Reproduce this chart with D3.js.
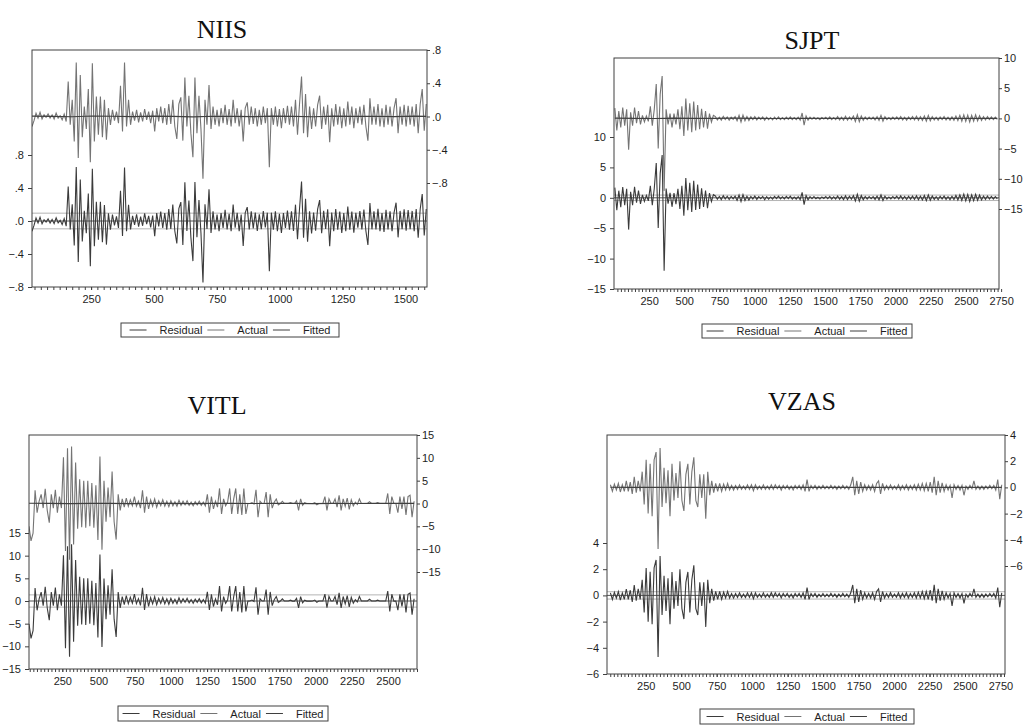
<!DOCTYPE html>
<html><head><meta charset="utf-8">
<script src="https://cdn.jsdelivr.net/npm/d3@7"></script>
<style>body{margin:0;background:#fff}svg{display:block}</style>
</head><body><svg id="c" width="1024" height="725"></svg>
<script>
// ---------------- DATA ----------------
const seriesNames = ["Residual", "Actual", "Fitted"];

// NIIS: obs from 15, every 8th obs
const niisActual = [
-0.12,-0.05,0.04,-0.02,0.05,-0.03,0.02,-0.01,0.03,-0.02,
0.02,-0.03,0.04,-0.02,0.01,-0.04,0.03,-0.06,0.42,-0.1,
0.2,-0.3,0.65,-0.5,0.5,-0.25,0.12,-0.15,0.33,-0.55,
0.64,-0.3,0.24,-0.22,0.24,-0.25,0.2,-0.28,0.1,-0.1,
0.08,-0.05,0.06,-0.08,0.37,-0.18,0.65,-0.12,0.2,-0.1,
0.06,-0.05,0.08,-0.07,0.05,-0.06,0.09,-0.04,0.06,-0.08,
0.07,-0.18,0.1,-0.06,0.12,-0.08,0.1,-0.1,0.15,-0.09,
0.2,-0.12,-0.27,0.15,0.23,-0.29,0.47,-0.12,0.25,-0.2,
-0.49,0.47,-0.2,0.25,-0.15,-0.75,0.2,-0.1,0.38,-0.15,
0.12,-0.1,0.08,-0.12,0.1,-0.08,0.14,-0.1,0.09,-0.12,
0.2,-0.08,0.1,-0.12,0.08,-0.3,0.1,0.17,-0.1,0.12,
-0.09,0.1,-0.12,0.08,-0.1,0.12,-0.08,0.1,-0.61,0.1,
-0.1,0.12,-0.12,0.09,-0.14,0.1,-0.08,0.13,-0.1,0.12,
-0.12,0.2,-0.22,0.15,0.48,-0.2,0.27,-0.25,0.12,-0.15,
0.1,-0.12,0.14,0.25,-0.15,0.12,-0.1,0.14,-0.31,0.1,
-0.12,0.15,-0.1,0.12,-0.14,0.1,-0.12,0.18,-0.1,0.12,
-0.14,0.1,-0.08,0.12,-0.1,0.14,-0.12,-0.29,0.22,-0.1,
0.12,-0.1,0.15,-0.12,0.1,-0.13,0.14,-0.1,0.12,-0.12,
0.1,0.22,-0.2,0.12,-0.1,0.14,-0.12,0.13,-0.1,0.12,
-0.12,0.15,-0.2,0.15,0.33,-0.17,0.15];
const niisFitted = [0.004,0.002,-0.003,0.006,0.003,-0.002,0.005,0.001,-0.004,0.003,0.002,-0.001,0.004,0.002,-0.003,0.005,0.001,0.003,-0.002,0.004,0.002];
const niisSE = 0.095;
const niisXTicks = [250,500,750,1000,1250,1500];
const niisYTicks = [-0.8,-0.4,0,0.4,0.8];

// SJPT: obs from 7, every 14th obs
const sjptActual = [
1.7,-2,1.2,-1.5,1.8,-1.2,1.5,-5.2,1.0,-1.2,
1.8,-0.8,1.2,-1.0,0.5,-0.6,0.4,-0.5,2.0,-1.2,
1.5,5.7,-5.0,4.0,7.0,-12.0,1.5,-1.0,0.8,-1.5,
0.8,-1.0,1.5,-1.8,2.0,-2.9,3.3,-2.0,2.5,-2.3,
2.8,-2.0,2.2,-1.8,1.6,-1.5,1.2,-1.7,0.8,-0.6,
0.5,0.3,-0.25,0.2,-0.3,0.35,-0.2,0.25,-0.3,0.2,
-0.15,0.3,-0.4,0.5,-0.6,0.55,-0.4,0.3,-0.35,0.25,
-0.2,0.3,-0.25,0.2,-0.15,0.25,-0.3,0.2,-0.2,0.15,
-0.25,0.2,-0.15,0.25,-0.2,0.15,-0.2,0.2,-0.15,0.25,
-0.2,0.15,-0.2,0.2,-0.3,0.9,-1.1,0.4,-0.3,0.2,
-0.15,0.2,-0.15,0.1,-0.2,0.15,-0.1,0.2,-0.15,0.25,
-0.2,0.15,-0.2,0.3,-0.25,0.2,-0.3,0.35,-0.3,0.25,
-0.2,0.4,-0.5,0.6,-0.55,0.4,-0.3,0.25,-0.2,0.2,
-0.15,0.2,-0.25,0.3,-0.35,0.5,-0.45,0.3,-0.2,0.15,
-0.2,0.2,-0.15,0.25,-0.2,0.3,-0.25,0.2,-0.3,0.25,
-0.2,0.3,-0.25,0.35,-0.3,0.3,-0.35,0.4,-0.45,0.5,
-0.4,0.3,-0.25,0.2,-0.3,0.25,-0.2,0.3,-0.25,0.2,
-0.3,0.25,-0.3,0.4,-0.35,0.5,-0.45,0.6,-0.5,0.55,
-0.6,0.5,-0.45,0.6,-0.4,0.45,-0.35,0.3,-0.25,0.3,
-0.2,0.25,-0.2,0.2,-0.15];
const sjptFitted = [0.03,0.01,-0.02,0.04,0.02,-0.01,0.03,0.01,-0.02,0.02,0.01,0.0,0.02,0.01,-0.01,0.02,0.01,0.0,0.01,0.02,0.01];
const sjptSE = 0.45;
const sjptXTicks = [250,500,750,1000,1250,1500,1750,2000,2250,2500,2750];
const sjptYTicks = [-15,-10,-5,0,5,10];

// VITL: obs from 20, every 14th obs
const vitlActual = [
-5,-8.2,-6.5,2.9,-2,0.5,2.0,-1.0,3.2,-1.5,
-4.2,2.0,-1.0,3.0,-2.0,1.5,-1.0,10.1,-10.4,12.1,
-12.3,12.5,-9,9,-5.5,5.3,-5.2,5.0,-5.3,5.0,
-5.0,4.5,-5.3,4.0,-8.0,10.3,-10.1,5.0,-4.0,3.5,
-3.0,7.0,-4.0,-7.9,2.0,-1.5,1.0,-0.8,1.2,-0.6,
0.8,-0.5,1.5,-0.6,0.5,-1.0,2.9,-2.0,1.5,-1.2,
0.8,-0.6,1.0,-0.8,0.6,-0.5,0.8,-0.6,0.5,-0.7,
0.6,-0.5,0.4,-0.6,0.7,-0.4,0.5,-0.3,0.6,-0.4,
0.3,-0.5,0.4,-0.3,0.5,-0.4,0.3,-0.5,2.0,-2.0,
1.5,-1.2,0.5,-0.8,3.3,-2.3,1.0,-0.5,0.3,3.3,
-2.3,1.0,3.3,-2.3,2.0,-2.5,3.3,-2.3,0,0,
0.2,-0.1,3.0,-3.0,0.5,0,0,2.5,-3.0,2.0,
-1.0,0.3,1.0,-0.3,0,0.5,0,0,0,0.2,
0,0,0.6,-1.5,1.0,-0.4,0.2,0,0,0,
0,0.2,-0.3,0,0,0,1.5,-1.5,1.0,0,
0,1.0,-0.8,1.8,-1.5,1.0,-0.6,1.2,-1.3,0.8,
-0.5,0.3,-0.2,1.0,0,0,0,0,0.4,0,
0,0,0.2,0,0,0,0,2.2,-2.3,1.5,
0,0,-2.0,1.5,-1.2,1.5,-2.5,1.5,1.8,-3.0,
0.5];
const vitlFitted = [0.05,0.02,-0.03,0.04,0.01,-0.02,0.03,0.01,-0.01,0.02,0.01,0.0,0.01,0.02,-0.01,0.01,0.0,0.01,0.02,0.01];
const vitlSE = 1.35;
const vitlXTicks = [250,500,750,1000,1250,1500,1750,2000,2250,2500];
const vitlYTicks = [-15,-10,-5,0,5,10,15];

// VZAS: obs from 1, every 14th obs
const vzasActual = [
0.2,-0.3,0.25,-0.2,0.3,-0.35,0.2,-0.3,0.5,-0.3,
0.4,-0.5,0.8,-0.4,0.5,-0.3,1.2,-1.3,2.1,-2.0,
1.8,-2.2,2.1,2.7,-4.7,3.0,-1.5,1.5,-1.2,1.3,
-2.2,1.8,-1.0,1.1,-0.8,2.0,-1.0,-1.8,1.0,1.8,
-1.3,1.2,2.3,-1.0,-1.5,1.0,-0.8,1.0,-2.4,1.2,
-0.6,0.5,-0.4,0.3,-0.3,0.3,-0.3,0.25,-0.2,0.3,
-0.2,0.15,-0.2,0.15,-0.15,0.2,-0.15,0.1,-0.15,0.2,
-0.15,0.2,-0.25,0.2,-0.15,0.1,-0.15,0.2,-0.15,0.1,
-0.15,0.2,-0.15,0.2,-0.1,0.15,-0.2,0.15,-0.1,0.15,
-0.15,0.1,-0.2,0.15,-0.1,0.15,-0.15,0.2,-0.3,0.6,
-0.3,0.15,-0.1,0.15,-0.15,0.1,-0.1,0.15,-0.1,0.1,
-0.1,0.15,-0.1,0.1,-0.15,0.1,-0.1,0.15,-0.1,0.1,
-0.15,0.2,0.8,-0.6,0.5,-0.5,0.4,-0.3,0.2,-0.2,
0.15,-0.2,0.2,-0.3,0.3,0.5,-0.5,0.3,-0.2,0.15,
-0.15,0.2,-0.15,0.1,-0.15,0.2,-0.2,0.15,-0.15,0.2,
-0.2,0.15,-0.15,0.2,-0.2,0.25,-0.2,0.3,-0.25,0.3,
-0.3,0.4,-0.4,0.8,-0.6,0.5,-0.4,0.35,-0.3,0.2,
-0.2,0.15,-0.8,0.2,-0.15,0.15,-0.2,0.15,-0.6,0.1,
-0.15,0.15,-0.1,0.5,-0.15,0.1,-0.15,0.1,-0.15,0.1,
-0.1,0.15,-0.1,0.15,-0.2,0.6,-0.9,0.2];
const vzasFitted = [0.01,0.005,-0.004,0.008,0.003,-0.002,0.006,0.002,-0.003,0.004,0.002,0.0,0.003,0.002,-0.002,0.003,0.001,0.002,0.0,0.003,0.002];
const vzasSE = 0.28;
const vzasXTicks = [250,500,750,1000,1250,1500,1750,2000,2250,2500,2750];
const vzasYTicks = [-6,-4,-2,0,2,4];

// ---------------- LAYOUT ----------------
const dotFmt = d => d === 0 ? ".0" : d3.format(".1f")(d).replace("0.", ".");
const intFmt = d3.format("d");

const panels = [
  {title:"NIIS", actual:niisActual, fitted:niisFitted, start:15, step:8, se:niisSE,
   xTicks:niisXTicks, yTicks:niisYTicks, fmt:dotFmt,
   box:[32,427,50,287], xDom:[15,1586], left:{dom:[-0.8,0.8], rng:[287,155]}, right:{dom:[-0.8,0.8], rng:[183,50]},
   titleXY:[222,38], legend:[121,323,218,14]},
  {title:"SJPT", actual:sjptActual, fitted:sjptFitted, start:7, step:14, se:sjptSE,
   xTicks:sjptXTicks, yTicks:sjptYTicks, fmt:intFmt,
   box:[614,999,58,289], xDom:[1,2735], left:{dom:[-15,10], rng:[289,137]}, right:{dom:[-15,10], rng:[209,58]},
   titleXY:[812,49], legend:[702,324,210,14]},
  {title:"VITL", actual:vitlActual, fitted:vitlFitted, start:20, step:14, se:vitlSE,
   xTicks:vitlXTicks, yTicks:vitlYTicks, fmt:intFmt,
   box:[29,417,435,669], xDom:[20,2700], left:{dom:[-15,15], rng:[669,533]}, right:{dom:[-15,15], rng:[572,435]},
   titleXY:[217,414], legend:[118,706,210,15]},
  {title:"VZAS", actual:vzasActual, fitted:vzasFitted, start:1, step:14, se:vzasSE,
   xTicks:vzasXTicks, yTicks:vzasYTicks, fmt:intFmt,
   box:[607,1005,435,674], xDom:[-23,2782], left:{dom:[-6,4], rng:[674,543]}, right:{dom:[-6,4], rng:[566,435]},
   titleXY:[802,410], legend:[700,709,214,15]}
];

const colors = {Residual:"#3b3b3b", Actual:"#747474", Fitted:"#3f3f3f", se:"#b4b4b4", axis:"#404040", text:"#1e1e1e"};
const svg = d3.select("#c");

panels.forEach((p, pi) => {
  const [x0,x1,y0,y1] = p.box;
  const x = d3.scaleLinear().domain(p.xDom).range([x0,x1]);
  const yL = d3.scaleLinear().domain(p.left.dom).range(p.left.rng);
  const yR = d3.scaleLinear().domain(p.right.dom).range(p.right.rng);
  const n = p.actual.length;
  const obs = i => p.start + i * p.step;
  const fitAt = i => p.fitted[Math.min(p.fitted.length - 1, Math.floor(i / 10))];
  const residual = p.actual.map((v, i) => v - fitAt(i));
  const fittedPts = p.fitted.map((v, j) => [obs(Math.min(j * 10, n - 1)), v]);

  const g = svg.append("g");
  g.append("clipPath").attr("id", "clip" + pi).append("rect")
    .attr("x", x0).attr("y", y0).attr("width", x1 - x0).attr("height", y1 - y0);
  const plot = g.append("g").attr("clip-path", `url(#clip${pi})`);

  [p.se, -p.se].forEach(s => {
    plot.append("line").attr("x1", x0).attr("x2", x1).attr("y1", yL(s)).attr("y2", yL(s))
      .attr("stroke", colors.se).attr("stroke-width", 1);
  });
  plot.append("line").attr("x1", x0).attr("x2", x1).attr("y1", yL(0)).attr("y2", yL(0))
    .attr("stroke", "#555").attr("stroke-width", 1);

  const lineL = d3.line().x((d, i) => x(obs(i))).y(d => yL(d));
  const lineR = d3.line().x((d, i) => x(obs(i))).y(d => yR(d));
  plot.append("path").attr("d", lineL(residual)).attr("fill", "none")
    .attr("stroke", colors.Residual).attr("stroke-width", 1.1);
  plot.append("path").attr("d", lineR(p.actual)).attr("fill", "none")
    .attr("stroke", colors.Actual).attr("stroke-width", 1.1);
  plot.append("path").attr("d", d3.line().x(d => x(d[0])).y(d => yR(d[1]))(fittedPts)).attr("fill", "none")
    .attr("stroke", colors.Fitted).attr("stroke-width", 1.2);

  g.append("rect").attr("x", x0).attr("y", y0).attr("width", x1 - x0).attr("height", y1 - y0)
    .attr("fill", "none").attr("stroke", colors.axis).attr("stroke-width", 1);

  const styleAxis = sel => {
    sel.select(".domain").remove();
    sel.selectAll("line").attr("stroke", colors.axis);
    sel.selectAll("text").attr("fill", colors.text).style("font-family", "'Liberation Sans', Arial, sans-serif").style("font-size", "11px");
  };
  g.append("g").attr("transform", `translate(${x0},0)`)
    .call(d3.axisLeft(yL).tickValues(p.yTicks).tickSize(4).tickPadding(4).tickFormat(p.fmt)).call(styleAxis);
  g.append("g").attr("transform", `translate(${x1},0)`)
    .call(d3.axisRight(yR).tickValues(p.yTicks).tickSize(3).tickPadding(2).tickFormat(p.fmt)).call(styleAxis);
  const minor = d3.range(Math.ceil(p.xDom[0] / 25) * 25, p.xDom[1] + 1, 25).filter(v => v > p.xDom[0]);
  g.append("g").attr("transform", `translate(0,${y1})`)
    .call(d3.axisBottom(x).tickValues(minor).tickSize(3).tickFormat("")).call(styleAxis);
  g.append("g").attr("transform", `translate(0,${y1})`)
    .call(d3.axisBottom(x).tickValues(p.xTicks).tickSize(3).tickPadding(5).tickFormat(intFmt)).call(styleAxis);

  g.append("text").attr("x", p.titleXY[0]).attr("y", p.titleXY[1]).attr("text-anchor", "middle")
    .style("font-family", "'Liberation Serif', 'Times New Roman', serif").style("font-size", "26px")
    .attr("fill", "#111").text(p.title);

  const [lx, ly, lw, lh] = p.legend;
  const lg = g.append("g");
  lg.append("rect").attr("x", lx).attr("y", ly).attr("width", lw).attr("height", lh)
    .attr("fill", "#fff").attr("stroke", colors.axis).attr("stroke-width", 1);
  const items = lg.append("g");
  let cx = 0;
  seriesNames.forEach((name, k) => {
    items.append("line").attr("x1", cx).attr("x2", cx + 17).attr("y1", 0).attr("y2", 0)
      .attr("stroke", colors[name]).attr("stroke-width", 1);
    const t = items.append("text").attr("x", cx + 30).attr("y", 4).text(name)
      .style("font-family", "'Liberation Sans', Arial, sans-serif").style("font-size", "11px").attr("fill", colors.text);
    cx = cx + 30 + t.node().getComputedTextLength() + 5;
  });
  const totalW = cx - 5;
  items.attr("transform", `translate(${lx + (lw - totalW) / 2},${ly + lh / 2})`);
});
</script></body></html>
